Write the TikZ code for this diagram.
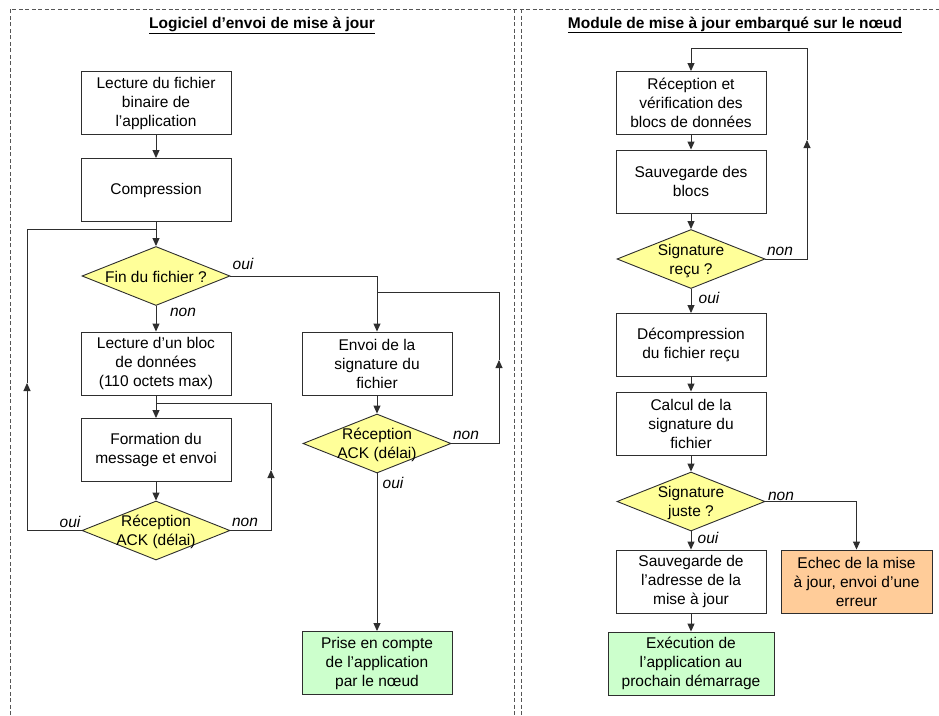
\documentclass[tikz,border=0pt]{standalone}
\usepackage{fontspec}
\setmainfont{Liberation Sans}
\usetikzlibrary{shapes.geometric,arrows.meta}
\definecolor{linec}{HTML}{2E2E2E}
\definecolor{framec}{HTML}{555555}
\definecolor{decfill}{HTML}{FFFF99}
\definecolor{okfill}{HTML}{CCFFCC}
\definecolor{errfill}{HTML}{FFCC99}
\tikzset{
  stepbox/.style={draw=linec, line width=0.9pt, fill=white, minimum width=150pt,
    minimum height=63pt, inner sep=0pt, align=center},
  decision/.style={draw=linec, line width=0.9pt, fill=decfill, diamond,
    minimum width=148pt, minimum height=59pt, inner sep=0pt},
  dectext/.style={align=center, inner sep=0pt},
  flow/.style={draw=linec, line width=0.9pt, -{Triangle[length=8pt,width=7pt]}},
  wire/.style={draw=linec, line width=0.9pt},
  answer/.style={font=\fontsize{15.5pt}{19pt}\selectfont\itshape, inner sep=0pt},
  frame/.style={draw=framec, line width=0.8pt, dash pattern=on 4pt off 2.5pt},
  heading/.style={font=\fontsize{15.5pt}{19pt}\selectfont\bfseries, inner sep=0pt}
}
\begin{document}
\begin{tikzpicture}[x=1pt, y=-1pt, font=\fontsize{15.5pt}{19pt}\selectfont]
\useasboundingbox (0,0) rectangle (939,715);

% panel frames
\draw[frame] (10,715) -- (10,9) -- (939,9);
\draw[frame] (514,9) -- (514,715);
\draw[frame] (521,9) -- (521,715);

% ---------- sender software ----------
\node[heading] (t1) at (262,25) {\underline{Logiciel d’envoi de mise à jour}};

\node[stepbox] (b1) at (156,103) {Lecture du fichier\\binaire de\\l’application};
\node[stepbox] (b2) at (156,190) {Compression};
\node[decision] (d1) at (156,276) {};
\node[dectext] (d1t) at (156,277) {Fin du fichier ?};
\node[stepbox] (b3) at (156,363.5) {Lecture d’un bloc\\de données\\(110 octets max)};
\node[stepbox] (b4) at (156,450) {Formation du\\message et envoi};
\node[decision] (d2) at (156,530.5) {};
\node[dectext] (d2t) at (156,532) {Réception\\ACK (délai)};

\node[stepbox] (b5) at (377,363.5) {Envoi de la\\signature du\\fichier};
\node[decision] (d3) at (377,443.5) {};
\node[dectext] (d3t) at (377,445) {Réception\\ACK (délai)};
\node[stepbox, fill=okfill] (g1) at (377,663) {Prise en compte\\de l’application\\par le nœud};

\coordinate (jA) at (156,229);
\coordinate (lpA) at (27,383);
\coordinate (jB) at (156,403);
\coordinate (lpB) at (271,470);
\coordinate (jC) at (377,292);
\coordinate (lpC) at (499,360);

\draw[flow] (b1) -- (b2);
\draw[flow] (b2) -- (d1);
\draw[flow] (d1) -- (b3);
\draw[flow] (b3) -- (b4);
\draw[flow] (b4) -- (d2);
\draw[flow] (d2.west) -| (lpA);
\draw[wire] (lpA) |- (jA);
\draw[flow] (d2.east) -| (lpB);
\draw[wire] (lpB) |- (jB);
\draw[flow] (d1.east) -| (b5.north);
\draw[flow] (b5) -- (d3);
\draw[flow] (d3.east) -| (lpC);
\draw[wire] (lpC) |- (jC);
\draw[flow] (d3) -- (g1);

\node[answer] (a1) at (243,264) {oui};
\node[answer] (a2) at (183,312) {non};
\node[answer] (a3) at (70,522) {oui};
\node[answer] (a4) at (245,522) {non};
\node[answer] (a5) at (466,435) {non};
\node[answer] (a6) at (393,483) {oui};

% ---------- on-node update module ----------
\node[heading] (t2) at (735,25) {\underline{Module de mise à jour embarqué sur le nœud}};

\node[stepbox] (r1) at (691,103) {Réception et\\vérification des\\blocs de données};
\node[stepbox] (r2) at (691,181.5) {Sauvegarde des\\blocs};
\node[decision] (e1) at (691,259) {};
\node[dectext] (e1t) at (691,261) {Signature\\reçu ?};
\node[stepbox] (r3) at (691,345) {Décompression\\du fichier reçu};
\node[stepbox] (r4) at (691,423.5) {Calcul de la\\signature du\\fichier};
\node[decision] (e2) at (691,501.5) {};
\node[dectext] (e2t) at (691,503) {Signature\\juste ?};
\node[stepbox] (r5) at (691,581.5) {Sauvegarde de\\l’adresse de la\\mise à jour};
\node[stepbox, fill=errfill, minimum width=151pt] (o1) at (856.5,581.5) {Echec de la mise\\à jour, envoi d’une\\erreur};
\node[stepbox, fill=okfill, minimum width=166pt] (g2) at (691,663.5) {Exécution de\\l’application au\\prochain démarrage};

\coordinate (jD) at (691,48);
\coordinate (lpD) at (807,140);

\draw[flow] (r1) -- (r2);
\draw[flow] (r2) -- (e1);
\draw[flow] (e1) -- (r3);
\draw[flow] (r3) -- (r4);
\draw[flow] (r4) -- (e2);
\draw[flow] (e2) -- (r5);
\draw[flow] (r5) -- (g2);
\draw[flow] (e1.east) -| (lpD);
\draw[wire] (lpD) |- (jD);
\draw[flow] (jD) -- (r1.north);
\draw[flow] (e2.east) -| (o1.north);

\node[answer] (a7) at (780,251) {non};
\node[answer] (a8) at (709,298) {oui};
\node[answer] (a9) at (781,496) {non};
\node[answer] (a10) at (708,538) {oui};
\end{tikzpicture}
\end{document}
